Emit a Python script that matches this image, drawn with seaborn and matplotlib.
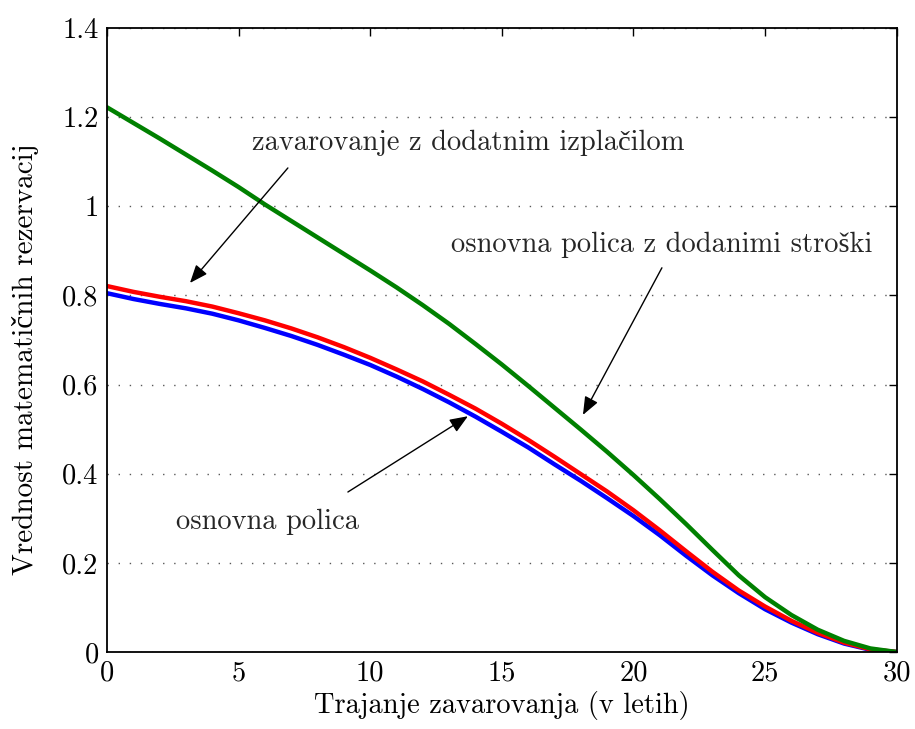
import matplotlib
matplotlib.use("Agg")
import matplotlib.pyplot as plt
import seaborn as sns

# trajanje zavarovanja (leta)
years = list(range(31))

# osnovna polica
basic = [0.805, 0.792, 0.781, 0.771, 0.759, 0.744, 0.727, 0.709, 0.689, 0.667,
         0.644, 0.618, 0.590, 0.560, 0.528, 0.494, 0.459, 0.421, 0.384, 0.345,
         0.305, 0.262, 0.216, 0.172, 0.132, 0.096, 0.066, 0.040, 0.019, 0.005, 0.0]

# osnovna polica z dodanimi stroski
costs = [0.821, 0.808, 0.797, 0.787, 0.775, 0.760, 0.744, 0.726, 0.706, 0.684,
         0.660, 0.634, 0.607, 0.577, 0.546, 0.512, 0.476, 0.438, 0.399, 0.360,
         0.318, 0.273, 0.226, 0.180, 0.138, 0.102, 0.070, 0.043, 0.021, 0.006, 0.0]

# zavarovanje z dodatnim izplacilom
extra = [1.222, 1.187, 1.152, 1.116, 1.080, 1.043, 1.004, 0.967, 0.930, 0.893,
         0.856, 0.818, 0.778, 0.736, 0.691, 0.645, 0.597, 0.548, 0.499, 0.449,
         0.397, 0.343, 0.287, 0.229, 0.172, 0.123, 0.083, 0.050, 0.025, 0.008, 0.0]

xticks = [0, 5, 10, 15, 20, 25, 30]
xticklabels = ["0", "5", "10", "15", "20", "25", "30"]
yticks = [0, 0.2, 0.4, 0.6, 0.8, 1.0, 1.2, 1.4]
yticklabels = ["0", "0.2", "0.4", "0.6", "0.8", "1", "1.2", "1.4"]

sns.set_theme(style="white")
plt.rcParams["font.family"] = ["cmr10", "Liberation Serif"]
plt.rcParams["axes.unicode_minus"] = False
fs = 20.5

fig = plt.figure(figsize=(9.15, 7.29), dpi=100)
ax = fig.add_axes([0.117, 0.1056, 0.863, 0.856])

sns.lineplot(x=years, y=basic, color=(0, 0, 1), lw=3.2, ax=ax)
sns.lineplot(x=years, y=costs, color=(1, 0, 0), lw=3.2, ax=ax)
sns.lineplot(x=years, y=extra, color=(0, 0.5, 0), lw=3.2, ax=ax)

ax.set_xlim(0, 30)
ax.set_ylim(0, 1.4)
ax.set_xticks(xticks)
ax.set_xticklabels(xticklabels)
ax.set_yticks(yticks)
ax.set_yticklabels(yticklabels)
ax.tick_params(direction="in", length=6, width=1, top=True, right=True,
               labelsize=fs, colors="black", pad=6)
ax.yaxis.grid(True, linestyle=(0, (1, 7)), color="0.35", lw=1)
ax.xaxis.grid(False)
for s in ax.spines.values():
    s.set_color("black")
    s.set_linewidth(1.3)

ax.set_xlabel("Trajanje zavarovanja (v letih)", fontsize=fs, color="black", labelpad=3)
ax.set_ylabel("Vrednost matematičnih rezervacij", fontsize=21, color="black")
ax.yaxis.set_label_coords(-0.086, 0.47)

arrow = dict(arrowstyle="-|>,head_length=0.55,head_width=0.22", color="black",
             lw=1, mutation_scale=20, shrinkA=0, shrinkB=0)

ax.text(13.71, 1.142, "zavarovanje z dodatnim izplačilom", fontsize=fs,
        ha="center", va="center")
ax.annotate("", xy=(3.15, 0.828), xytext=(6.87, 1.086), arrowprops=arrow)

ax.text(21.08, 0.913, "osnovna polica z dodanimi stroški", fontsize=fs,
        ha="center", va="center")
ax.annotate("", xy=(18.08, 0.532), xytext=(21.08, 0.862), arrowprops=arrow)

ax.text(6.11, 0.292, "osnovna polica", fontsize=fs, ha="center", va="center")
ax.annotate("", xy=(13.71, 0.529), xytext=(9.15, 0.359), arrowprops=arrow)

fig.savefig("out.png", dpi=100)
